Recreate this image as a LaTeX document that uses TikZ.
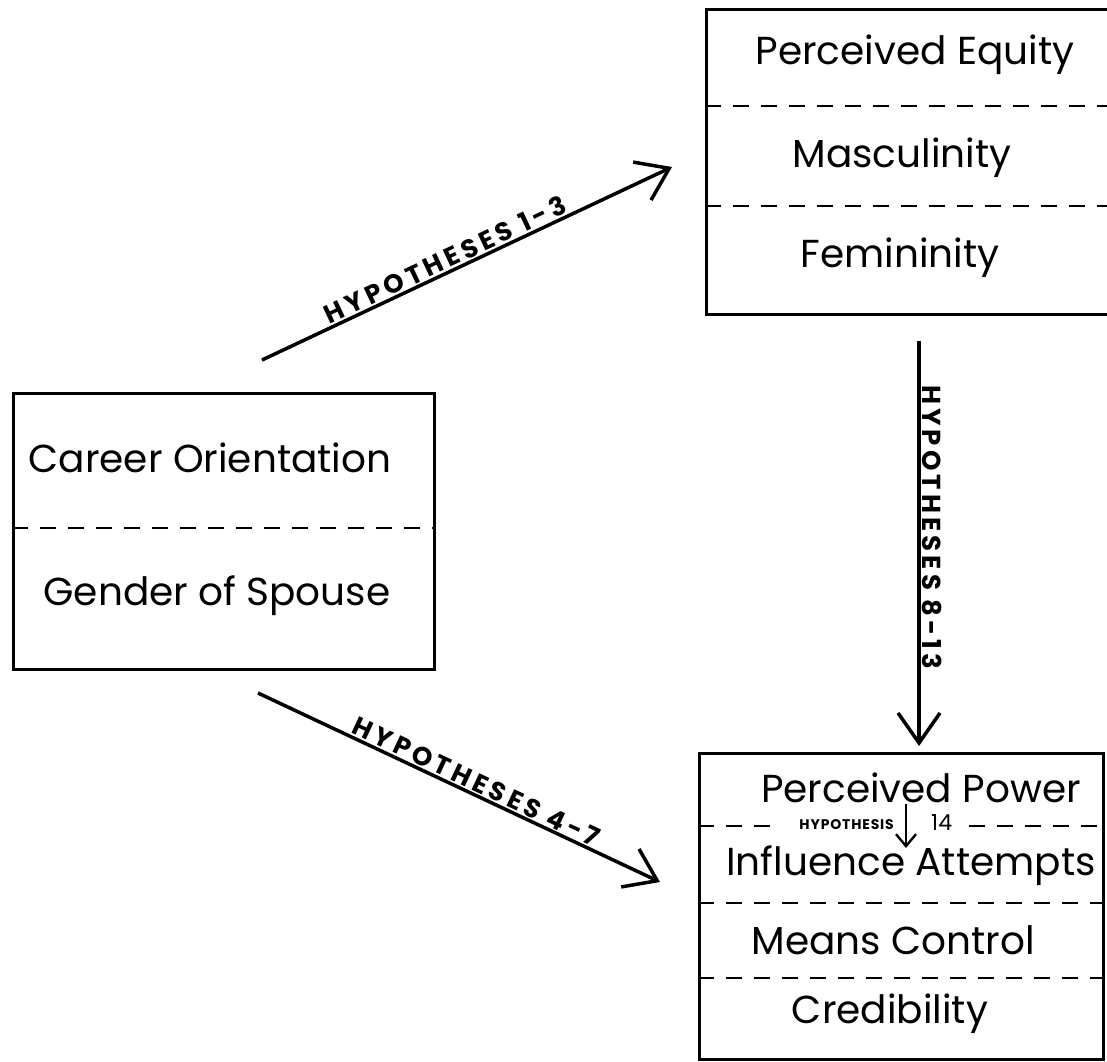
\documentclass[tikz,border=0pt]{standalone}
\usepackage{fontspec}
\setmainfont{Poppins}
\usetikzlibrary{arrows.meta}
\begin{document}
\begin{tikzpicture}[x=1pt,y=-1pt,
  box/.style={draw,line width=3pt,rectangle,inner sep=0pt,anchor=north west},
  divider/.style={line width=2.4pt,dash pattern=on 16pt off 12pt},
  big/.style={font=\fontsize{39}{42}\selectfont,inner sep=0pt},
  hyplabel/.style={font=\fontsize{26}{28}\selectfont\bfseries\addfontfeature{LetterSpace=16},inner sep=1.5pt},
  bigarrow/.style={line width=3.5pt,-{Straight Barb[length=30pt,width=42pt,line width=3.5pt]}},
  smallarrow/.style={line width=2.4pt,-{Straight Barb[length=12pt,width=20pt,line width=2.4pt]}}]
\useasboundingbox[fill=white] (0,0) rectangle (1107,1061);

% boxes
\node[box,minimum width=402pt,minimum height=305pt] (tb) at (705,8) {};
\node[box,minimum width=421pt,minimum height=276pt] (lb) at (12,392) {};
\node[box,minimum width=404pt,minimum height=306pt] (bb) at (698,752) {};

% dividers
\draw[divider] ([yshift=-98pt]tb.north west) -- ([yshift=-98pt]tb.north east);
\draw[divider] ([yshift=-198pt]tb.north west) -- ([yshift=-198pt]tb.north east);
\draw[divider] ([yshift=-136pt]lb.north west) -- ([yshift=-136pt]lb.north east);
\draw[divider] ([yshift=-74pt]bb.north west) -- ([yshift=-74pt,xshift=74pt]bb.north west);
\draw[divider] ([yshift=-74pt,xshift=-136pt]bb.north east) -- ([yshift=-74pt]bb.north east);
\draw[divider] ([yshift=-151pt]bb.north west) -- ([yshift=-151pt]bb.north east);
\draw[divider] ([yshift=-226pt]bb.north west) -- ([yshift=-226pt]bb.north east);

% texts
\node[big] (pe) at (915,55) {Perceived Equity};
\node[big] (ma) at (902,158) {Masculinity};
\node[big] (fe) at (900,258) {Femininity};
\node[big] (co) at (210,458) {Career Orientation};
\node[big] (gs) at (217,596) {Gender of Spouse};
\node[big] (pp) at (921,788) {Perceived Power};
\node[big] (ia) at (911,866) {Influence Attempts};
\node[big] (mc) at (893,940) {Means Control};
\node[big] (cr) at (890,1014) {Credibility};

% connector end points
\coordinate (a1s) at (262,360);
\coordinate (a1e) at (672,167);
\coordinate (a2s) at (258,693);
\coordinate (a2e) at (660,882);
\coordinate (a3s) at (919,341);
\coordinate (a3e) at (919,746);
\coordinate (h14s) at (906,804);
\coordinate (h14e) at (906,848);

\draw[bigarrow] (a1s) -- node[hyplabel,pos=0.46,above,sloped] (l1) {HYPOTHESES 1-3} (a1e);
\draw[bigarrow] (a2s) -- node[hyplabel,pos=0.53,above,sloped] (l2) {HYPOTHESES 4-7} (a2e);
\draw[bigarrow] (a3s) -- node[hyplabel,pos=0.46,rotate=-90,anchor=south] (l3) {HYPOTHESES 8-13} (a3e);
\draw[smallarrow] (h14s) -- (h14e);
\node[font=\fontsize{14}{15}\selectfont\bfseries\addfontfeature{LetterSpace=6},anchor=east,inner sep=0pt] (h14l) at (894,825) {HYPOTHESIS};
\node[font=\fontsize{22}{24}\selectfont,anchor=west,inner sep=0pt] (h14n) at (931,823) {14};
\end{tikzpicture}
\end{document}
